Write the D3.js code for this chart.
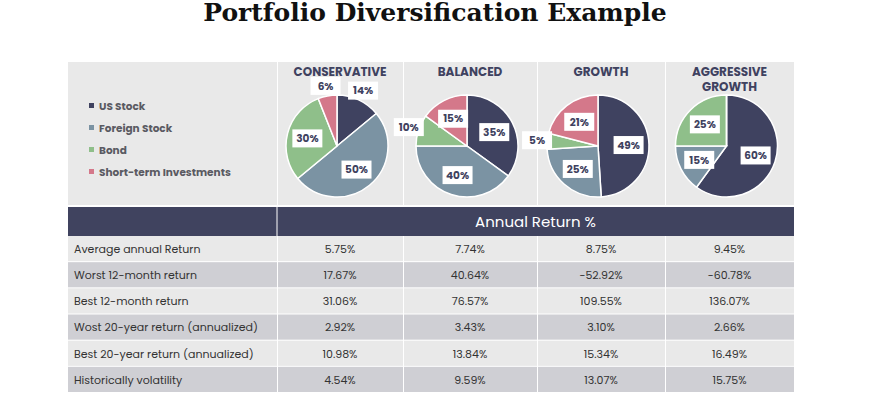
<!DOCTYPE html>
<html><head><meta charset="utf-8">
<script src="https://cdn.jsdelivr.net/npm/d3@7"></script>
<style>body{margin:0;background:#fff}</style>
</head><body><div id="chart"></div>
<script>
var assets = ["US Stock", "Foreign Stock", "Bond", "Short-term Investments"];
var colors = ["#3f4260", "#7b93a3", "#8fbf8a", "#d4788a"];
var portfolios = ["CONSERVATIVE", "BALANCED", "GROWTH", "AGGRESSIVE GROWTH"];
var allocations = [
    [14, 50, 30, 6],
    [35, 40, 10, 15],
    [49, 25, 5, 21],
    [60, 15, 25, 0]
];
var metrics = ["Average annual Return", "Worst 12-month return", "Best 12-month return",
    "Wost 20-year return (annualized)", "Best 20-year return (annualized)", "Historically volatility"];
var returns = [
    ["5.75%", "7.74%", "8.75%", "9.45%"],
    ["17.67%", "40.64%", "-52.92%", "-60.78%"],
    ["31.06%", "76.57%", "109.55%", "136.07%"],
    ["2.92%", "3.43%", "3.10%", "2.66%"],
    ["10.98%", "13.84%", "15.34%", "16.49%"],
    ["4.54%", "9.59%", "13.07%", "15.75%"]
];

var width = 870, height = 400;
var svg = d3.select("#chart").append("svg").attr("width", width).attr("height", height);
var font = "Poppins, 'Open Sans', sans-serif";

// Title
svg.append("text").attr("x", 435).attr("y", 21).attr("text-anchor", "middle")
    .attr("font-family", "'DejaVu Serif', serif").attr("font-weight", "bold")
    .attr("font-size", 25).attr("fill", "#111").text("Portfolio Diversification Example");

// Column boundaries
var cols = [68, 277, 403, 537, 665, 794];
var panelTop = 62, panelBottom = 205;

// Top grey panels
for (let i = 0; i < 5; i++) {
    svg.append("rect").attr("x", cols[i] + (i ? 1 : 0)).attr("y", panelTop)
        .attr("width", cols[i + 1] - cols[i] - (i ? 1 : 0)).attr("height", panelBottom - panelTop)
        .attr("fill", "#e9e9e9");
}

// Legend
var legend = svg.append("g").selectAll("g").data(assets).join("g")
    .attr("transform", (d, i) => "translate(89," + (106 + i * 22) + ")");
legend.append("rect").attr("x", 0).attr("y", -3).attr("width", 5).attr("height", 5)
    .attr("fill", (d, i) => colors[i]);
legend.append("text").attr("x", 10).attr("y", 0).attr("dy", "0.35em")
    .attr("font-family", font).attr("font-weight", "bold").attr("font-size", 10.5)
    .attr("fill", "#5a5a62").text(d => d);

// Pies
var pie = d3.pie().sort(null);
var r = 51;
var arc = d3.arc().innerRadius(0).outerRadius(r);
portfolios.forEach(function(name, p) {
    let cx = (cols[p + 1] + cols[p + 2]) / 2 - 3;
    let cy = 146;
    let words = name.split(" ");
    let title = svg.append("text").attr("x", cx + 3).attr("y", 76).attr("text-anchor", "middle")
        .attr("font-family", font).attr("font-weight", "bold").attr("font-size", 12)
        .attr("fill", "#3f4260");
    words.forEach((w, i) => title.append("tspan").attr("x", cx + 3).attr("dy", i ? 15 : 0).text(w));

    let g = svg.append("g").attr("transform", "translate(" + cx + "," + cy + ")");
    let arcs = pie(allocations[p]);
    g.selectAll("path").data(arcs).join("path")
        .attr("d", arc).attr("fill", (d, i) => colors[i])
        .attr("stroke", "#fff").attr("stroke-width", 1.5);

    let labels = g.selectAll("g.lbl").data(arcs.filter(d => d.value > 0)).join("g")
        .attr("transform", function(d) {
            let lr = d.value < 15 ? r * 1.2 : r * 0.6;
            let a = (d.startAngle + d.endAngle) / 2;
            return "translate(" + (Math.sin(a) * lr) + "," + (-Math.cos(a) * lr) + ")";
        });
    labels.append("rect").attr("x", -15).attr("y", -9).attr("width", 30).attr("height", 18)
        .attr("fill", "#fff");
    labels.append("text").attr("text-anchor", "middle").attr("dy", "0.35em")
        .attr("font-family", font).attr("font-weight", "bold").attr("font-size", 10.5)
        .attr("fill", "#3f4260").text(d => d.value + "%");
});

// Header band
svg.append("rect").attr("x", cols[0]).attr("y", 207).attr("width", cols[5] - cols[0])
    .attr("height", 29).attr("fill", "#40435f");
svg.append("line").attr("x1", cols[1]).attr("x2", cols[1]).attr("y1", 207).attr("y2", 236)
    .attr("stroke", "#fff").attr("stroke-width", 1);
svg.append("text").attr("x", (cols[1] + cols[5]) / 2).attr("y", 222).attr("dy", "0.35em")
    .attr("text-anchor", "middle").attr("font-family", font).attr("font-size", 15)
    .attr("fill", "#fff").text("Annual Return %");

// Table rows
var y = d3.scaleBand().domain(metrics).range([236, 393]);
metrics.forEach(function(m, i) {
    let y0 = y(m), h = y.bandwidth();
    for (let c = 0; c < 5; c++) {
        svg.append("rect").attr("x", cols[c] + (c ? 1 : 0)).attr("y", y0)
            .attr("width", cols[c + 1] - cols[c] - (c ? 1 : 0)).attr("height", h - 1)
            .attr("fill", i % 2 ? "#cfcfd4" : "#e9e9e9");
    }
    svg.append("text").attr("x", cols[0] + 6).attr("y", y0 + h / 2).attr("dy", "0.35em")
        .attr("font-family", font).attr("font-size", 11).attr("fill", "#333").text(m);
    returns[i].forEach(function(v, c) {
        svg.append("text").attr("x", (cols[c + 1] + cols[c + 2]) / 2).attr("y", y0 + h / 2)
            .attr("dy", "0.35em").attr("text-anchor", "middle")
            .attr("font-family", font).attr("font-size", 11).attr("fill", "#333").text(v);
    });
});
</script>
</body></html>
